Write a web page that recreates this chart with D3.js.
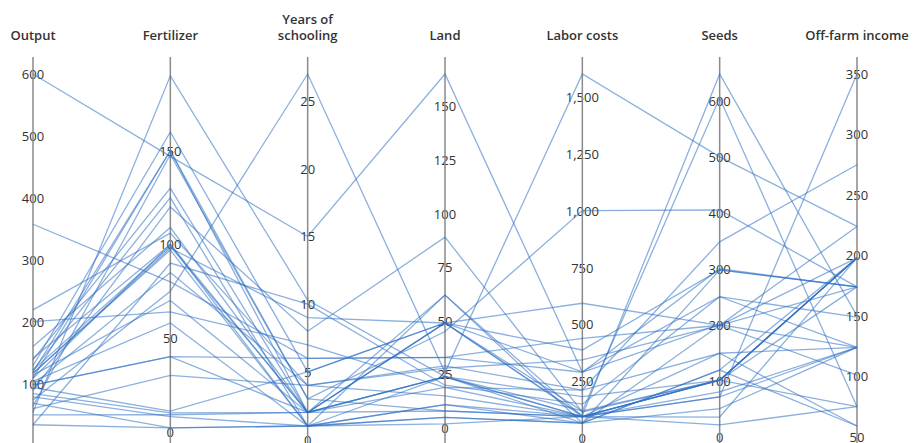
<!DOCTYPE html>
<html>
<head>
<meta charset="utf-8">
<script src="https://cdn.jsdelivr.net/npm/d3@7"></script>
<style>
  body { margin: 0; background: #fff; }
  svg { font-family: "Open Sans", "Noto Sans", sans-serif; }
</style>
</head>
<body>
<div id="chart"></div>
<script>
// axis names (two-line titles split with |)
const dimensions = ["Output", "Fertilizer", "Years of|schooling", "Land", "Labor costs", "Seeds", "Off-farm income"];

// value range of each axis (data min, data max)
const domains = [[33, 600], [3, 191], [1, 27], [1, 165], [54, 1600], [19, 648], [59, 350]];

// tick values shown on each axis
const ticksOutput = [100, 200, 300, 400, 500, 600];
const ticksFertilizer = [0, 50, 100, 150];
const ticksSchooling = [0, 5, 10, 15, 20, 25];
const ticksLand = [0, 25, 50, 75, 100, 125, 150];
const ticksLabor = [0, 250, 500, 750, 1000, 1250, 1500];
const ticksSeeds = [0, 100, 200, 300, 400, 500, 600];
const ticksOffFarm = [50, 100, 150, 200, 250, 300, 350];
const tickSets = [ticksOutput, ticksFertilizer, ticksSchooling, ticksLand, ticksLabor, ticksSeeds, ticksOffFarm];

// one row per farm: output, fertilizer, schooling, land, labor, seeds, off-farm
const farms = [
  [600, 147, 15, 165, 290, 300, 174],
  [358, 80, 6, 33, 290, 200, 124],
  [55, 190, 10.3, 24, 95, 101, 198],
  [75, 75, 27, 26, 1600, 500, 224],
  [130, 160, 5, 49, 100, 648, 150],
  [110, 150, 2, 49, 120, 101, 75],
  [120, 150, 3, 45, 1000, 405, 174],
  [90, 120, 8, 89, 115, 101, 198],
  [140, 130, 2, 62, 95, 71, 350],
  [220, 106, 4, 28, 344, 199, 198],
  [201, 64, 7, 19, 212, 348, 275],
  [161, 109, 2, 49, 388, 298, 174],
  [142, 100, 1, 11, 67, 119, 198],
  [123, 99, 2, 8, 95, 149, 124],
  [118, 98, 9, 49, 593, 199, 101],
  [118, 97, 1, 5, 67, 50, 124],
  [115, 70, 2, 24, 183, 101, 198],
  [105, 58, 1, 2, 95, 35, 198],
  [99, 40, 6, 33, 439, 199, 224],
  [99, 40, 2, 24, 95, 101, 174],
  [95, 11, 5, 49, 292, 250, 124],
  [85, 10, 2, 19, 95, 21, 75],
  [80, 8, 1, 62, 67, 119, 59],
  [70, 2, 1, 11, 95, 71, 124],
  [65, 148, 3, 8, 95, 101, 198],
  [61, 30, 4, 29, 212, 149, 59],
  [51, 9, 2, 24, 120, 605, 75],
  [35, 2, 1, 5, 67, 298, 174],
  [35, 90, 10, 20, 150, 250, 149],
  [110, 100, 2, 49, 95, 101, 198],
  [123, 125, 1, 24, 67, 199, 174],
  [100, 85, 4, 15, 95, 80, 124]
];

const width = 917, height = 443;
const margin = { left: 33, right: 60, top: 74, bottom: 17 };

const svg = d3.select("#chart").append("svg")
    .attr("width", width)
    .attr("height", height);

const x = d3.scalePoint()
    .domain(d3.range(dimensions.length))
    .range([margin.left, width - margin.right]);

const y = domains.map(dom => d3.scaleLinear()
    .domain(dom)
    .range([height - margin.bottom, margin.top]));

// tick labels (drawn first, lines go over them)
dimensions.forEach((dim, i) => {
    const fmt = d3.format(",");
    svg.append("g")
        .selectAll("text")
        .data(tickSets[i])
        .join("text")
        .attr("x", x(i))
        .attr("y", d => y[i](d))
        .attr("text-anchor", "middle")
        .attr("dominant-baseline", "central")
        .style("font-size", "13px")
        .style("fill", "#333")
        .text(d => fmt(d));
});

// axis lines
svg.append("g")
    .selectAll("line")
    .data(dimensions)
    .join("line")
    .attr("x1", (d, i) => x(i))
    .attr("x2", (d, i) => x(i))
    .attr("y1", 57)
    .attr("y2", height)
    .attr("stroke", "#8a8a8a")
    .attr("stroke-width", 1.5);

// axis titles
dimensions.forEach((dim, i) => {
    const parts = dim.split("|");
    const t = svg.append("text")
        .attr("x", x(i))
        .attr("text-anchor", "middle")
        .style("font-size", "13px")
        .style("font-weight", "600")
        .style("fill", "#333");
    parts.forEach((p, k) => {
        t.append("tspan")
            .attr("x", x(i))
            .attr("y", 40 - (parts.length - 1 - k) * 16)
            .text(p);
    });
});

// data lines
const line = d3.line()
    .x((d, i) => x(i))
    .y((d, i) => y[i](d));

svg.append("g")
    .selectAll("path")
    .data(farms)
    .join("path")
    .attr("d", line)
    .attr("fill", "none")
    .attr("stroke", "#2d6fc2")
    .attr("stroke-opacity", 0.55)
    .attr("stroke-width", 1.3);
</script>
</body>
</html>
